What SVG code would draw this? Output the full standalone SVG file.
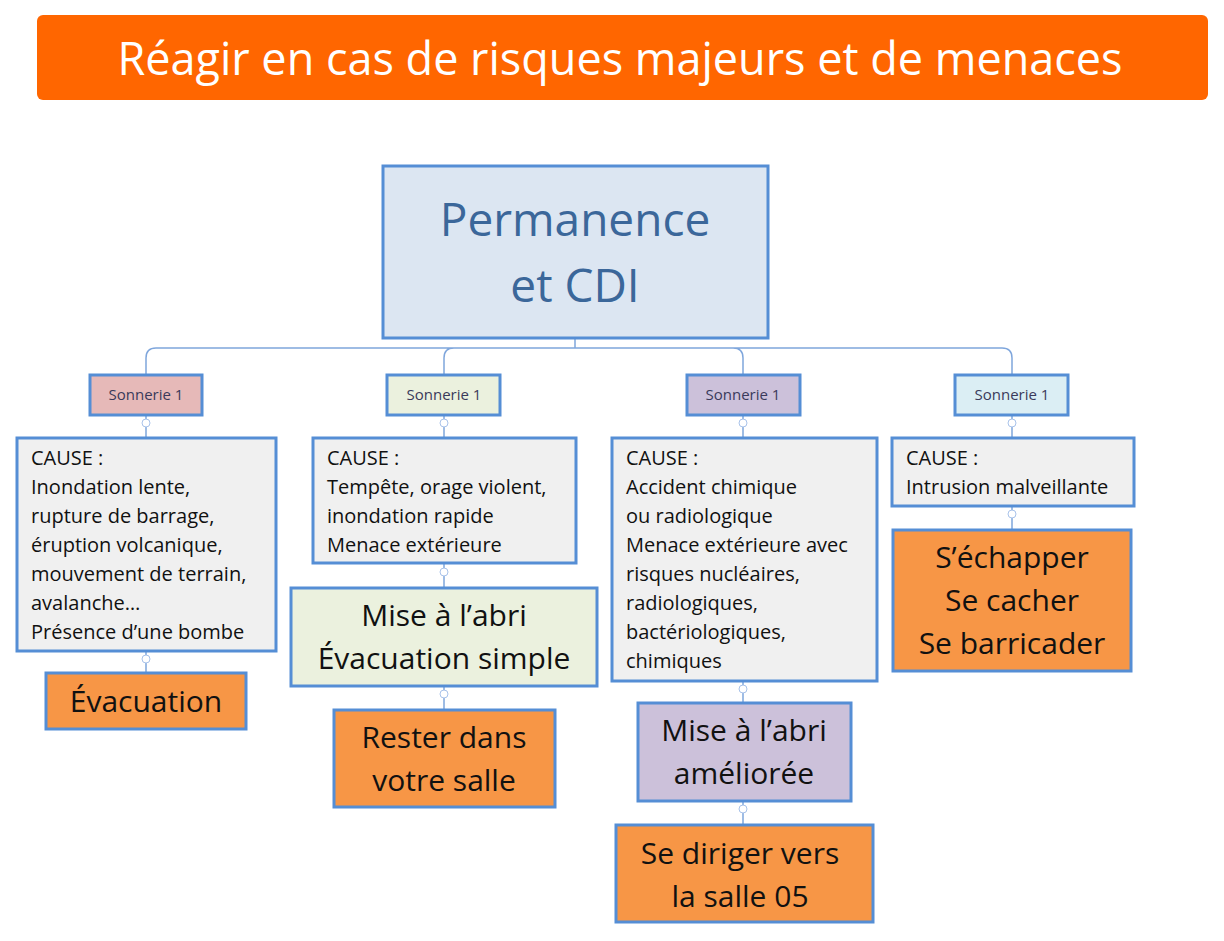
<svg xmlns="http://www.w3.org/2000/svg" width="1224" height="941" viewBox="0 0 1224 941">
<style>
text{font-family:"Open Sans","Noto Sans","Liberation Sans",sans-serif}
.b{stroke:#558ED5;stroke-width:3}
.c{fill:#F0F0F0}
.o{fill:#F79646}
.s{font-size:15px;fill:#3a3a5a;text-anchor:middle}
.t{font-size:20px;fill:#111}
.big{font-size:30px;fill:#111;text-anchor:middle}
.ln{fill:none;stroke:#7FA6DC;stroke-width:1.5}
.k{fill:#fff;stroke:#A9C3EA;stroke-width:1}
</style>
<rect x="37" y="15" width="1171" height="85" rx="6" fill="#FF6600"/>
<text x="620" y="75" font-size="45" fill="#fff" text-anchor="middle">Réagir en cas de risques majeurs et de menaces</text>
<g id="connectors">
<path class="ln" d="M575 338V348M146 375V358Q146 348 156 348H1002Q1012 348 1012 358V375M444 375V358Q444 348 454 348M743 375V358Q743 348 733 348"/>
<path class="ln" d="M146 415V438M146 651V673M444 415V438M444 563V588M444 686V710M743 415V438M743 681V703M743 801V825M1012 415V438M1012 506V530"/>
<circle class="k" cx="146" cy="423" r="4"/><circle class="k" cx="444" cy="423" r="4"/><circle class="k" cx="743" cy="423" r="4"/><circle class="k" cx="1012" cy="423" r="4"/>
<circle class="k" cx="146" cy="659" r="4"/><circle class="k" cx="444" cy="572" r="4"/><circle class="k" cx="444" cy="694" r="4"/><circle class="k" cx="743" cy="689" r="4"/><circle class="k" cx="743" cy="809" r="4"/><circle class="k" cx="1012" cy="514" r="4"/>
</g>
<g id="root"><rect class="b" x="383" y="166" width="385" height="172" fill="#DCE6F2"/>
<text x="575" y="236" font-size="46" fill="#3B679A" text-anchor="middle">Permanence</text>
<text x="575" y="302" font-size="46" fill="#3B679A" text-anchor="middle">et CDI</text></g>
<g id="s1"><rect class="b" x="90" y="375" width="112" height="40" fill="#E6B9B8"/><text class="s" x="146" y="400">Sonnerie 1</text></g>
<g id="s2"><rect class="b" x="387" y="375" width="113" height="40" fill="#EBF1DE"/><text class="s" x="444" y="400">Sonnerie 1</text></g>
<g id="s3"><rect class="b" x="687" y="375" width="113" height="40" fill="#CCC1DA"/><text class="s" x="743" y="400">Sonnerie 1</text></g>
<g id="s4"><rect class="b" x="955" y="375" width="113" height="40" fill="#DBEEF4"/><text class="s" x="1012" y="400">Sonnerie 1</text></g>
<g id="c1"><rect class="b c" x="17" y="438" width="259" height="213"/>
<text class="t" x="31" y="465">CAUSE :<tspan x="31" dy="29">Inondation lente,</tspan><tspan x="31" dy="29">rupture de barrage,</tspan><tspan x="31" dy="29">éruption volcanique,</tspan><tspan x="31" dy="29">mouvement de terrain,</tspan><tspan x="31" dy="29">avalanche…</tspan><tspan x="31" dy="29">Présence d’une bombe</tspan></text></g>
<g id="c2"><rect class="b c" x="313" y="438" width="263" height="125"/>
<text class="t" x="327" y="465">CAUSE :<tspan x="327" dy="29">Tempête, orage violent,</tspan><tspan x="327" dy="29">inondation rapide</tspan><tspan x="327" dy="29">Menace extérieure</tspan></text></g>
<g id="c3"><rect class="b c" x="612" y="438" width="265" height="243"/>
<text class="t" x="626" y="465">CAUSE :<tspan x="626" dy="29">Accident chimique</tspan><tspan x="626" dy="29">ou radiologique</tspan><tspan x="626" dy="29">Menace extérieure avec</tspan><tspan x="626" dy="29">risques nucléaires,</tspan><tspan x="626" dy="29">radiologiques,</tspan><tspan x="626" dy="29">bactériologiques,</tspan><tspan x="626" dy="29">chimiques</tspan></text></g>
<g id="c4"><rect class="b c" x="892" y="438" width="242" height="68"/>
<text class="t" x="906" y="465">CAUSE :<tspan x="906" dy="29">Intrusion malveillante</tspan></text></g>
<g id="o1"><rect class="b o" x="46" y="673" width="200" height="56"/><text class="big" x="146" y="712">Évacuation</text></g>
<g id="o2"><rect class="b" x="291" y="588" width="306" height="98" fill="#EBF1DE"/><text class="big" x="444" y="626">Mise à l’abri<tspan x="444" dy="43">Évacuation simple</tspan></text></g>
<g id="o3"><rect class="b o" x="334" y="710" width="221" height="97"/><text class="big" x="444" y="748">Rester dans<tspan x="444" dy="43">votre salle</tspan></text></g>
<g id="o4"><rect class="b" x="638" y="703" width="213" height="98" fill="#CCC1DA"/><text class="big" x="744" y="741">Mise à l’abri<tspan x="744" dy="43">améliorée</tspan></text></g>
<g id="o5"><rect class="b o" x="616" y="825" width="257" height="97"/><text class="big" x="740" y="864">Se diriger vers<tspan x="740" dy="43">la salle 05</tspan></text></g>
<g id="o6"><rect class="b o" x="893" y="530" width="238" height="141"/><text class="big" x="1012" y="568">S’échapper<tspan x="1012" dy="43">Se cacher</tspan><tspan x="1012" dy="43">Se barricader</tspan></text></g>
</svg>
